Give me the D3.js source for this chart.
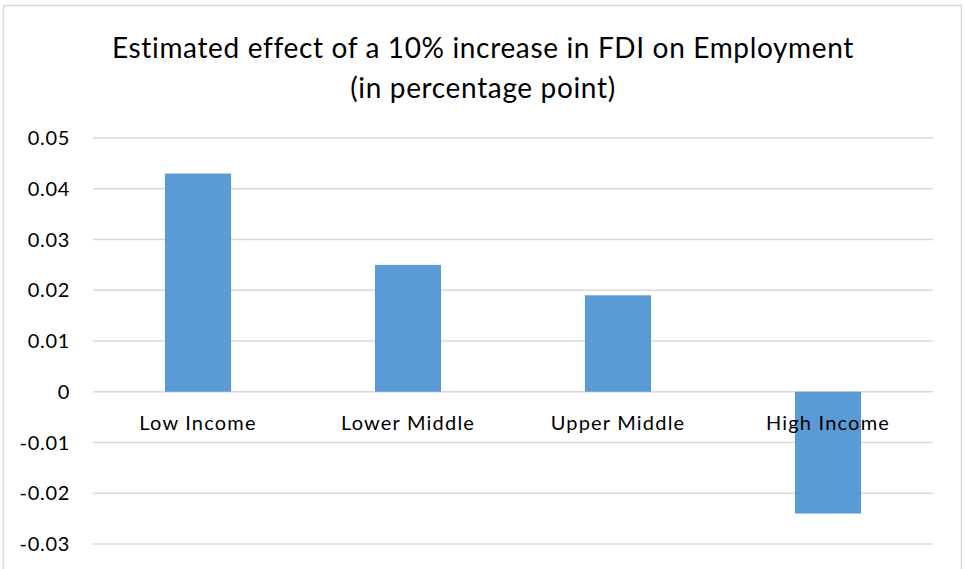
<!DOCTYPE html>
<html>
<head>
<meta charset="utf-8">
<script src="https://cdn.jsdelivr.net/npm/d3@7"></script>
<style>
  body { margin: 0; background: #fff; }
  text { font-family: Lato, "Open Sans", sans-serif; fill: #000; }
</style>
</head>
<body>
<div class="chart"></div>
<script>
const categories = ["Low Income", "Lower Middle", "Upper Middle", "High Income"];
const values = [0.043, 0.025, 0.019, -0.024];
const yTicks = [-0.03, -0.02, -0.01, 0, 0.01, 0.02, 0.03, 0.04, 0.05];
const titleLines = ["Estimated effect of a 10% increase in FDI on Employment", "(in percentage point)"];

const width = 965, height = 569;
const margin = {top: 138, right: 32, bottom: 25, left: 93};

const svg = d3.select(".chart")
    .append("svg")
    .attr("width", width)
    .attr("height", height);

// chart frame
svg.append("rect")
    .attr("x", 3.5).attr("y", 5.5)
    .attr("width", 958).attr("height", 600)
    .attr("fill", "none")
    .attr("stroke", "#d9d9d9")
    .attr("stroke-width", 1.5);

const x = d3.scaleBand()
    .domain(categories)
    .range([margin.left, width - margin.right])
    .padding(0);

const y = d3.scaleLinear()
    .domain([-0.03, 0.05])
    .range([544, margin.top]);

// gridlines
svg.append("g")
    .selectAll("line")
    .data(yTicks)
    .join("line")
    .attr("x1", margin.left)
    .attr("x2", width - margin.right)
    .attr("y1", d => y(d))
    .attr("y2", d => y(d))
    .attr("stroke", "#d9d9d9")
    .attr("stroke-width", 1.5);

// y tick labels (plain hyphen like the original)
svg.append("g")
    .selectAll("text")
    .data(yTicks)
    .join("text")
    .attr("x", 70)
    .attr("y", d => y(d))
    .attr("dy", "0.35em")
    .attr("text-anchor", "end")
    .style("font-size", "20px")
    .style("letter-spacing", "0.7px")
    .text(d => d === 0 ? "0" : d3.format(".2f")(d).replace("−", "-"));

// bars
const barW = x.bandwidth() * 0.315;
svg.append("g")
    .selectAll("rect")
    .data(values)
    .join("rect")
    .attr("x", (d, i) => x(categories[i]) + x.bandwidth() / 2 - barW / 2)
    .attr("y", d => y(Math.max(0, d)))
    .attr("width", barW)
    .attr("height", d => Math.abs(y(d) - y(0)))
    .attr("fill", "#5b9bd5");

// category labels
svg.append("g")
    .selectAll("text")
    .data(categories)
    .join("text")
    .attr("x", d => x(d) + x.bandwidth() / 2)
    .attr("y", y(0) + 31)
    .attr("dy", "0.35em")
    .attr("text-anchor", "middle")
    .style("font-size", "20px")
    .style("letter-spacing", "1.2px")
    .text(d => d);

// title
svg.append("g")
    .selectAll("text")
    .data(titleLines)
    .join("text")
    .attr("x", 483)
    .attr("y", (d, i) => 48 + i * 40)
    .attr("dy", "0.35em")
    .attr("text-anchor", "middle")
    .style("font-size", "28px")
    .style("letter-spacing", "0.65px")
    .text(d => d);
</script>
</body>
</html>
